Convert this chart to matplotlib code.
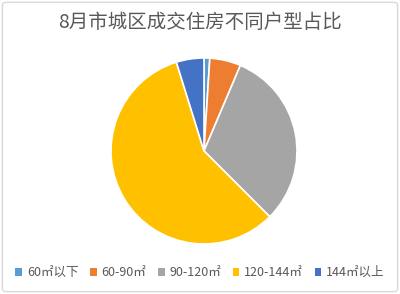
import matplotlib
matplotlib.use('Agg')
import matplotlib.pyplot as plt
from matplotlib.patches import FancyBboxPatch, Patch

plt.rcParams['font.family'] = ['Noto Sans CJK SC', 'DejaVu Sans']

title = '8月市城区成交住房不同户型占比'
labels = ['60㎡以下', '60-90㎡', '90-120㎡', '120-144㎡', '144㎡以上']
shares = [1.0, 5.4, 31.1, 57.7, 4.8]
colors = ['#5B9BD5', '#ED7D31', '#A5A5A5', '#FFC000', '#4472C4']

fig = plt.figure(figsize=(4, 2.94), dpi=100)
fig.patches.append(FancyBboxPatch((0.006, 0.008), 0.988, 0.984,
                                  boxstyle='round,pad=0,rounding_size=0.01',
                                  transform=fig.transFigure, fill=False,
                                  edgecolor='#d9d9d9', linewidth=1))

ax = fig.add_axes([0.2775, 0.170, 0.465, 0.633])
ax.pie(shares, colors=colors, startangle=90, counterclock=False,
       wedgeprops=dict(edgecolor='white', linewidth=1.2))
ax.set_xlim(-1, 1)
ax.set_ylim(-1, 1)
ax.set_aspect('equal')

fig.text(0.5, 0.925, title, ha='center', va='center', fontsize=14, color='#595959')

handles = [Patch(facecolor=c, edgecolor='none') for c in colors]
fig.legend(handles, labels, loc='center', bbox_to_anchor=(0.5, 0.072), ncol=5,
           frameon=False, fontsize=9, labelcolor='#595959',
           handlelength=0.55, handleheight=0.55, handletextpad=0.4, columnspacing=0.9)

fig.savefig('out.png', dpi=100)
